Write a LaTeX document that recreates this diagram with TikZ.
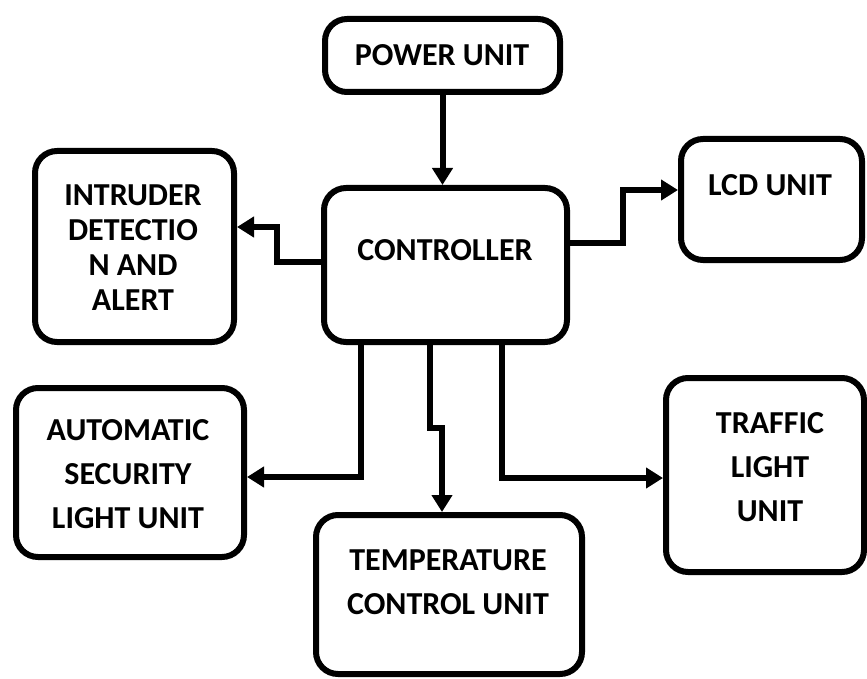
\documentclass[tikz,border=0pt]{standalone}
\usepackage{fontspec}
\setmainfont{Carlito}
\usetikzlibrary{arrows.meta,calc}

\begin{document}
\begin{tikzpicture}[
  x=1pt, y=-1pt,
  >={Triangle[length=17pt,width=20pt]},
  unitbox/.style={rectangle, rounded corners=22pt, draw=black, line width=6pt,
                  fill=white, inner sep=0pt},
  unittext/.style={font=\bfseries\fontsize{32}{44}\selectfont, align=center, inner sep=0pt},
  link/.style={->, line width=6pt},
]
\useasboundingbox (0,0) rectangle (867,679);

% ===== boxes =====
\node (power) [unitbox, minimum width=235pt, minimum height=73pt]  at (442.5,55.5) {};
\node (ctrl)  [unitbox, minimum width=243pt, minimum height=154pt] at (445.5,265) {};
\node (intr)  [unitbox, minimum width=199pt, minimum height=191pt] at (134.5,246.5) {};
\node (lcd)   [unitbox, minimum width=181pt, minimum height=121pt] at (771.5,199.5) {};
\node (auto)  [unitbox, minimum width=228pt, minimum height=169pt] at (130,472.5) {};
\node (temp)  [unitbox, minimum width=266pt, minimum height=159pt] at (449,594.5) {};
\node (traf)  [unitbox, minimum width=198pt, minimum height=194pt] at (765,475) {};

% ===== box texts =====
\node (powertxt) [unittext] at (442,55) {POWER UNIT};
\node (ctrltxt)  [unittext] at (445,250) {CONTROLLER};
\node (intrtxt)  [unittext, font=\bfseries\fontsize{32}{35}\selectfont] at (133,247.5)
  {INTRUDER\\DETECTIO\\N AND\\ALERT};
\node (lcdtxt)   [unittext] at (770,185) {LCD UNIT};
\node (autotxt)  [unittext] at (128,474) {AUTOMATIC\\SECURITY\\LIGHT UNIT};
\node (temptxt)  [unittext] at (448,582.5) {TEMPERATURE\\CONTROL UNIT};
\node (traftxt)  [unittext] at (770,467.5) {TRAFFIC\\LIGHT\\UNIT};

% ===== connectors =====
\draw[link] (power.south) -- (power.south |- ctrl.north);
\draw[link] (ctrl.west |- 0,262) -- (277,262) |- (intr.east |- 0,227);
\draw[link] (ctrl.east |- 0,243) -- (623,243) |- (lcd.west |- 0,190);
\draw[link] (ctrl.south -| 361,0) |- (auto.east |- 0,477);
% controller to temperature, with the small jog
\draw[link] (ctrl.south -| 430,0) -- (430,428) -- (442,428) -- (temp.north -| 442,0);
\draw[link] (ctrl.south -| 502,0) |- (traf.west |- 0,478);
\end{tikzpicture}
\end{document}
